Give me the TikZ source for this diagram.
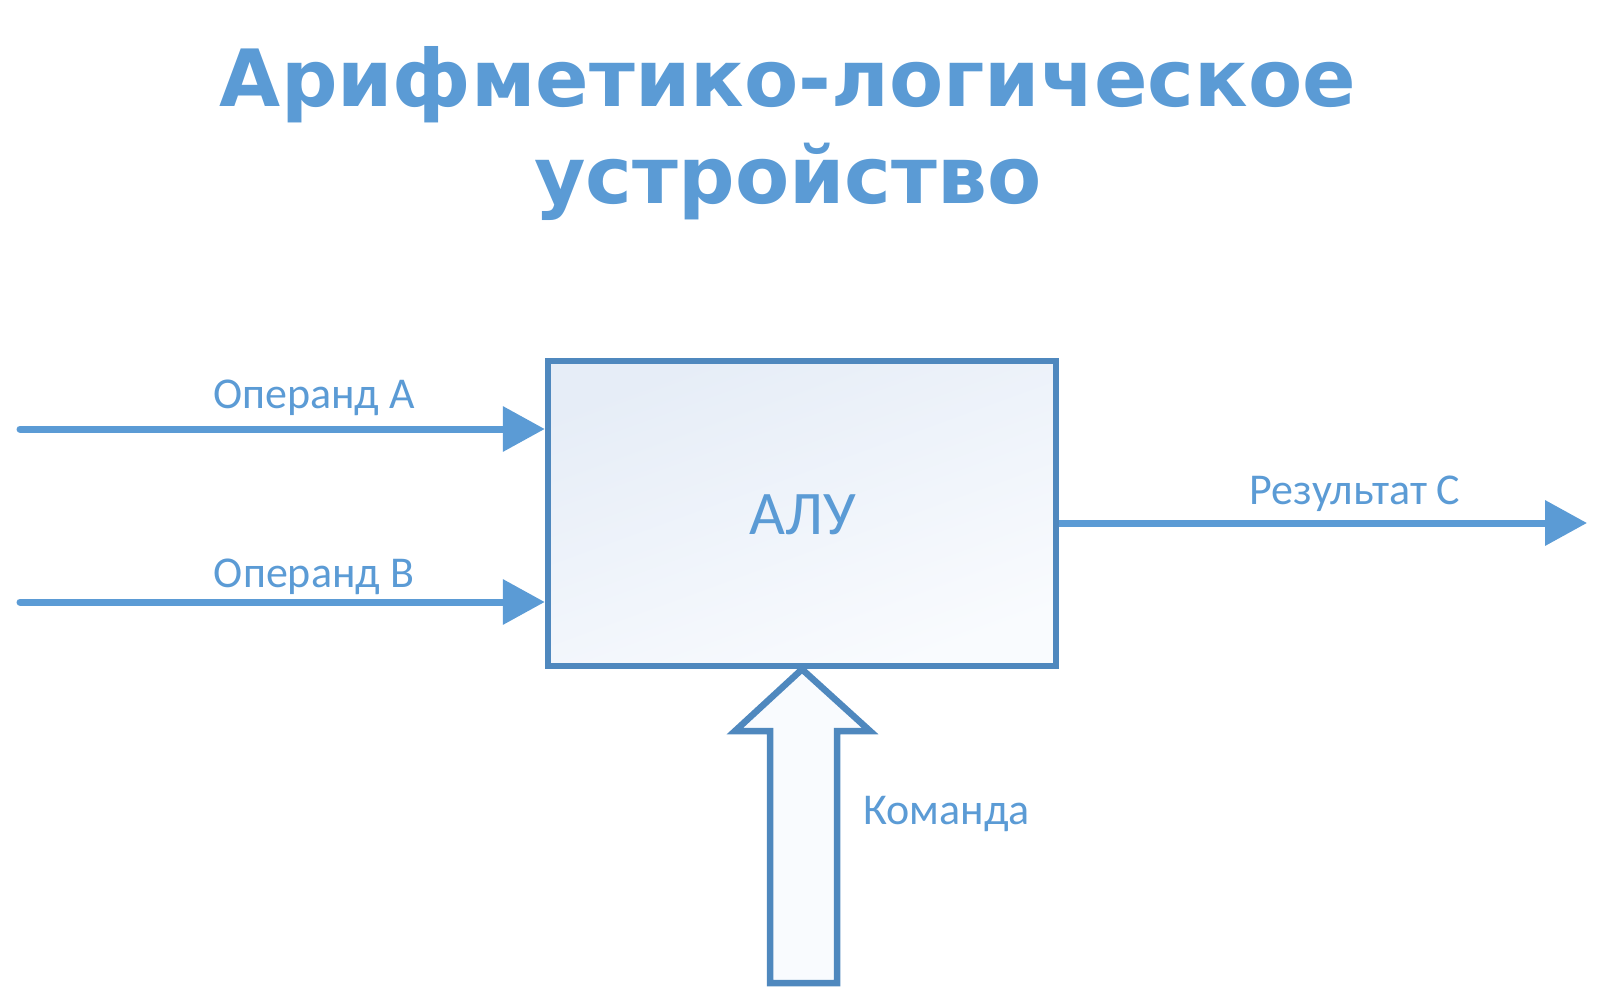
\documentclass[tikz,border=0pt]{standalone}
\usepackage{fontspec}
\setmainfont{Carlito}
\newfontfamily\titlefont{DejaVu Sans}
\usetikzlibrary{arrows.meta}
\definecolor{txtblue}{HTML}{5B9BD5}
\definecolor{boxblue}{HTML}{4F88BE}
\definecolor{lineblue}{HTML}{5B9BD5}
\definecolor{fillA}{HTML}{E6EDF7}
\definecolor{fillB}{HTML}{F9FBFE}
\definecolor{arrfill}{HTML}{F9FBFE}
\tikzset{
  titletext/.style={font=\titlefont\bfseries\fontsize{79}{95}\selectfont, text=txtblue, anchor=base, inner sep=0pt},
  lbl/.style={font=\fontsize{44}{52}\selectfont, text=txtblue, anchor=base, inner sep=0pt},
  sig/.style={draw=lineblue, line width=7pt, line cap=round, -{Triangle[length=42pt,width=44pt]}},
  alubox/.style={draw=boxblue, line width=6.5pt, minimum width=508pt, minimum height=305pt, top color=fillA, bottom color=fillB, shading angle=20, inner sep=0pt},
  bigarrow/.style={draw=boxblue, line width=6.5pt, fill=arrfill, line join=miter}
}
\begin{document}
\begin{tikzpicture}[x=1pt,y=-1pt]
\useasboundingbox (0,0) rectangle (1600,1003);
\node[titletext] (t1) at (788,107) {Арифметико-логическое};
\node[titletext] (t2) at (788,204) {устройство};
\node[alubox] (alu) at (802,513.5) {};
\node[lbl, font=\fontsize{62}{70}\selectfont] (alutxt) at (803,534) {АЛУ};
\coordinate (inA) at (20,429);
\coordinate (inB) at (20,602);
\coordinate (outC) at (1587,523);
\draw[sig] (inA) -- (alu.west |- inA);
\draw[sig] (inB) -- (alu.west |- inB);
\draw[sig, line cap=butt] (alu.east |- outC) -- (outC);
\node[lbl] (la) at (314,408) {Операнд А};
\node[lbl] (lb) at (314,587) {Операнд В};
\node[lbl] (lc) at (1355,504) {Результат С};
\draw[bigarrow] (alu.south) -- (870,731) -- (837,731) -- (837,983) -- (770,983) -- (770,731) -- (735,731) -- cycle;
\node[lbl, anchor=base west] (lk) at (863,824) {Команда};
\end{tikzpicture}
\end{document}
